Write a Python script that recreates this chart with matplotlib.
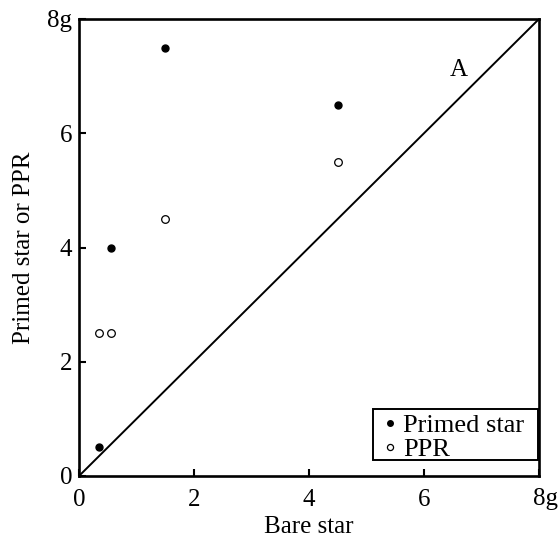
import matplotlib
matplotlib.use("Agg")
import matplotlib.pyplot as plt
import matplotlib.transforms as mtransforms
from matplotlib.patches import Rectangle

plt.rcParams['font.family'] = ['Liberation Serif', 'DejaVu Serif']

# data
primed_x = [0.35, 0.55, 1.5, 4.5]
primed_y = [0.5, 4.0, 7.5, 6.5]
ppr_x = [0.35, 0.55, 1.5, 4.5]
ppr_y = [2.5, 2.5, 4.5, 5.5]
diag = [0, 8]
ticks = [0, 2, 4, 6, 8]
tick_labels = ['0', '2', '4', '6', '8g']

fig = plt.figure(figsize=(5.6, 5.39), dpi=100)
ax = fig.add_axes([79/560, (539-476)/539, (539-79)/560, (476-19)/539])

ax.plot(diag, diag, color='black', lw=1.4)
ax.plot(primed_x, primed_y, 'o', color='black', ms=5, label='Primed star', clip_on=False)
ax.plot(ppr_x, ppr_y, 'o', mfc='white', mec='black', mew=0.9, ms=5.5, label='PPR', clip_on=False)

ax.text(6.6, 7.1, 'A', fontsize=18, ha='center', va='center')

ax.set_xlim(0, 8)
ax.set_ylim(0, 8)
ax.set_xticks(ticks)
ax.set_xticklabels(tick_labels)
ax.set_yticks(ticks)
ax.set_yticklabels(tick_labels)
ax.tick_params(direction='in', length=5, width=1.5, labelsize=18, pad=5)
ax.tick_params(axis='x', pad=9)
for s in ax.spines.values():
    s.set_linewidth(1.9)

# shift "8g" on x so the digit sits at the tick
lab = ax.get_xticklabels()[-1]
lab.set_transform(lab.get_transform() + mtransforms.ScaledTranslation(6/100, 0, fig.dpi_scale_trans))

ax.set_xlabel('Bare star', fontsize=18, labelpad=4)
ax.set_ylabel('Primed star or PPR', fontsize=18, labelpad=9)

# legend frame (drawn as a box in axes coordinates)
ax.add_patch(Rectangle((0.639, 0.035), 0.359, 0.1115, transform=ax.transAxes,
                       fill=False, edgecolor='black', lw=1.4, zorder=5))
leg = ax.legend(loc='lower left', bbox_to_anchor=(0.647, 0.033), fontsize=19,
                frameon=False, handlelength=1.0, handletextpad=0.0, borderpad=0.0,
                labelspacing=0.0, borderaxespad=0.0, markerscale=0.8)

fig.savefig('out.png', dpi=100)
